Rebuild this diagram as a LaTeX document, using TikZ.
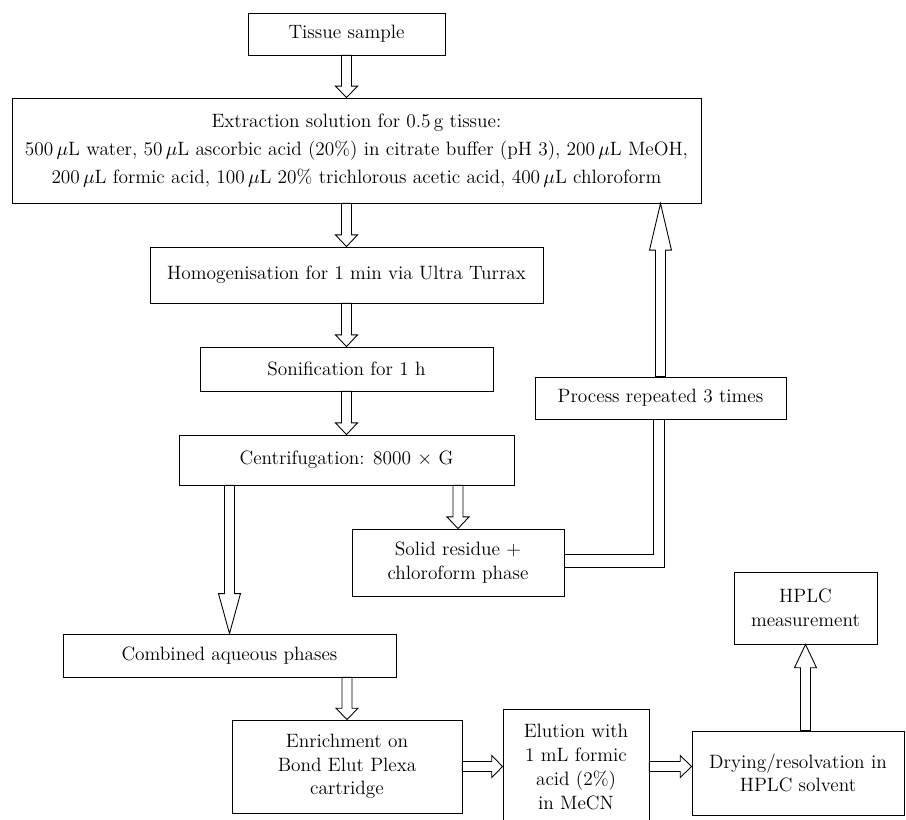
\documentclass[tikz,border=0pt]{standalone}
\usepackage{tikz}
\usetikzlibrary{calc}

\begin{document}
\begin{tikzpicture}[x=0.02cm,y=-0.02cm,line width=0.5pt,
  box/.style={draw,fill=white,align=center,inner sep=2pt,font=\fontsize{11}{13.5}\selectfont},
  blockarr/.style={draw,line join=miter,to path={
    ($(\tikztostart)!0.1cm!90:(\tikztotarget)$)
    -- ($(\tikztotarget)!0.27!(\tikztostart)!0.1cm!90:(\tikztotarget)$)
    -- ($(\tikztotarget)!0.27!(\tikztostart)!0.22cm!90:(\tikztotarget)$)
    -- (\tikztotarget)
    -- ($(\tikztotarget)!0.27!(\tikztostart)!0.22cm!-90:(\tikztotarget)$)
    -- ($(\tikztotarget)!0.27!(\tikztostart)!0.1cm!-90:(\tikztotarget)$)
    -- ($(\tikztostart)!0.1cm!-90:(\tikztotarget)$) -- cycle}}]
\useasboundingbox (0,0) rectangle (906,820);
\node[box,minimum width=3.94cm,minimum height=0.84cm] (tis) at (346.5,34) {Tissue sample};
\node[box,minimum width=13.78cm,minimum height=2.1cm,font=\fontsize{11}{16}\selectfont] (ext) at (356.5,150.5)
  {Extraction solution for 0.5\,g tissue:\\
   500\,$\mu$L water, 50\,$\mu$L ascorbic acid (20\%) in citrate buffer (pH 3), 200\,$\mu$L MeOH,\\
   200\,$\mu$L formic acid, 100\,$\mu$L 20\% trichlorous acetic acid, 400\,$\mu$L chloroform};
\node[box,minimum width=7.86cm,minimum height=1.12cm] (hom) at (346.5,275) {Homogenisation for 1 min via Ultra Turrax};
\node[box,minimum width=5.86cm,minimum height=0.88cm] (son) at (346.5,369) {Sonification for 1 h};
\node[box,minimum width=6.7cm,minimum height=1cm] (cen) at (346.5,460) {Centrifugation: 8000 $\times$ G};
\node[box,minimum width=5.02cm,minimum height=0.84cm] (rep) at (660.5,398) {Process repeated 3 times};
\node[box,minimum width=4.24cm,minimum height=1.34cm] (sol) at (458,562.5) {Solid residue +\\chloroform phase};
\node[box,minimum width=6.66cm,minimum height=0.86cm] (com) at (229.5,655.5) {Combined aqueous phases};
\node[box,minimum width=4.6cm,minimum height=1.86cm] (enr) at (347,766.5) {Enrichment on\\Bond Elut Plexa\\cartridge};
\node[box,minimum width=2.92cm,minimum height=2.32cm] (elu) at (576,767) {Elution with\\1 mL formic\\acid (2\%)\\in MeCN};
\node[box,minimum width=4.24cm,minimum height=1.68cm] (dry) at (798,773) {Drying/resolvation in\\HPLC solvent};
\node[box,minimum width=2.86cm,minimum height=1.44cm] (hplc) at (805.5,608) {HPLC\\measurement};
% main line
\draw[blockarr] (tis.south) to (tis.south |- ext.north);
\draw[blockarr] (hom.north |- ext.south) to (hom.north);
\draw[blockarr] (hom.south) to (son.north);
\draw[blockarr] (son.south) to (cen.north);
\draw[blockarr] (com.north |- cen.south) to (com.north);
\draw[blockarr] (sol.north |- cen.south) to (sol.north);
% repeat loop
\draw ($(sol.east)+(0,-8)$) -| ($(rep.south)+(-7,0)$);
\draw ($(sol.east)+(0,4.5)$) -| ($(rep.south)+(4,0)$);
\draw[blockarr] (rep.north) to (rep.north |- ext.south);
% clean-up and measurement
\draw[blockarr] (enr.north |- com.south) to (enr.north);
\draw[blockarr] (enr.east) to (enr.east -| elu.west);
\draw[blockarr] (enr.east -| elu.east) to (enr.east -| dry.west);
\draw[blockarr] (hplc.south |- dry.north) to (hplc.south);
\end{tikzpicture}
\end{document}
